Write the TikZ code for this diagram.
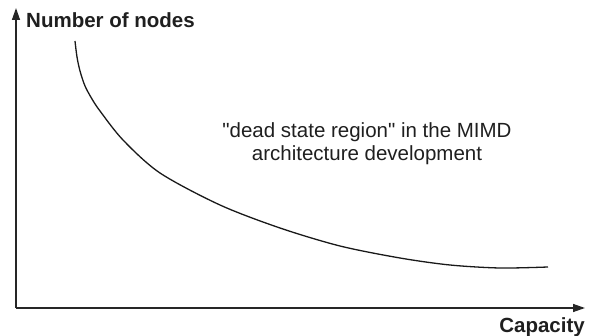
\documentclass[tikz,border=0pt]{standalone}
\usepackage{fontspec}
\setmainfont{Liberation Sans}
\usetikzlibrary{arrows.meta}
\begin{document}
\begin{tikzpicture}[x=1pt,y=-1pt,
  axis/.style={line width=1.4pt,draw=black!85,-{Triangle[length=12pt,width=8pt]}},
  curve/.style={line width=1.3pt,draw=black!90},
  axlabel/.style={font=\bfseries\fontsize{20.5}{24}\selectfont,text=black!88,inner sep=0pt},
  note/.style={font=\fontsize{20.5}{23}\selectfont,align=center,text=black!88,inner sep=0pt}]
\useasboundingbox (0,0) rectangle (591,336);
\coordinate (O) at (16,308);
\coordinate (ytop) at (16,8);
\coordinate (xend) at (585,308);
\draw[axis] (O) -- (ytop);
\draw[axis] (O) -- (xend);
\node[axlabel,anchor=base west] (ylab) at (26,28) {Number of nodes};
\node[axlabel,anchor=base east] (xlab) at (585,332) {Capacity};
\draw[curve] plot[smooth,tension=0.5] coordinates {(75,41) (77,57) (80,71) (85,86) (92,99) (100,111) (123,140) (160,173) (220,205) (280,228) (340,246) (400,258) (450,265) (500,268) (548,267)};
\node[note] (region) at (367,144) {\textquotedbl dead state region\textquotedbl{} in the MIMD\\architecture development};
\end{tikzpicture}
\end{document}
